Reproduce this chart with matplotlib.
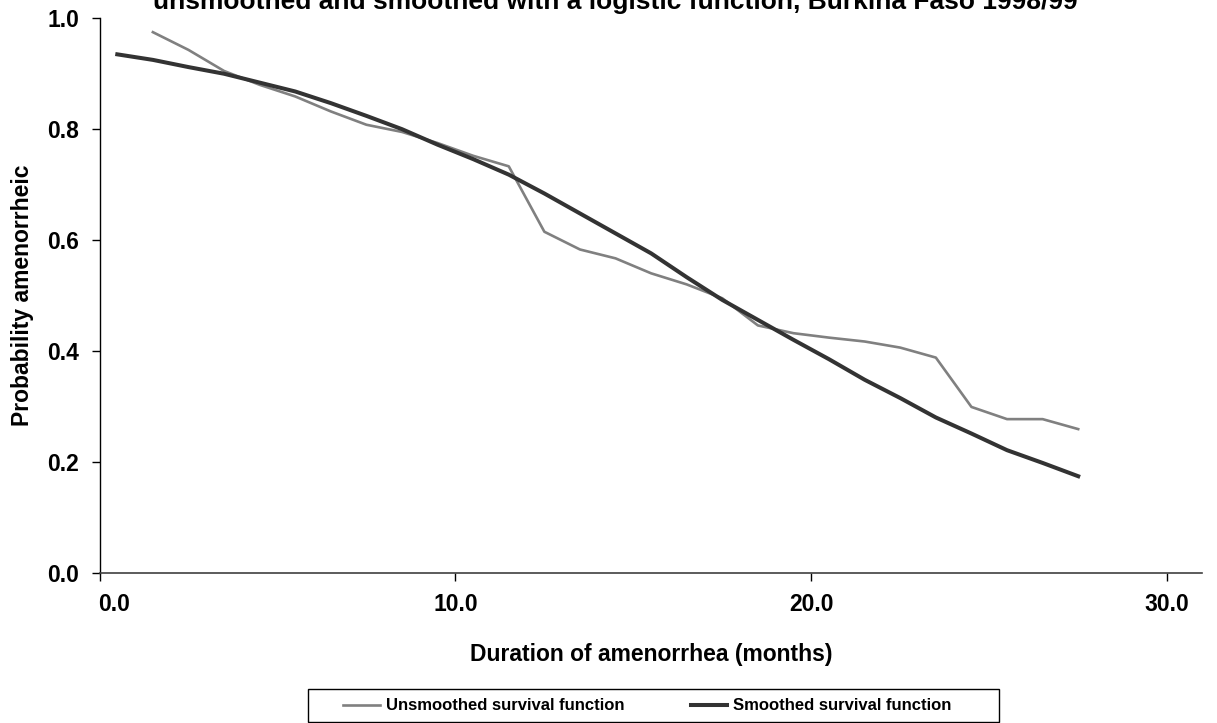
import matplotlib
matplotlib.use("Agg")
import matplotlib.pyplot as plt
import matplotlib.transforms as mtransforms
from matplotlib.patches import Rectangle

plt.rcParams["font.family"] = ["Liberation Sans", "DejaVu Sans"]
plt.rcParams["font.weight"] = "bold"

# ------------------------------------------------
# Data
# ------------------------------------------------

unsmoothed_x = [1.5, 2.5, 3.5, 4.5, 5.5, 6.5, 7.5, 8.5, 9.5, 10.5, 11.5, 12.5, 13.5, 14.5,
                15.5, 16.5, 17.5, 18.5, 19.5, 20.5, 21.5, 22.5, 23.5, 24.5, 25.5, 26.5, 27.5]
unsmoothed_y = [0.975, 0.943, 0.905, 0.880, 0.859, 0.832, 0.808, 0.795, 0.775, 0.752, 0.733,
                0.615, 0.583, 0.567, 0.540, 0.520, 0.495, 0.446, 0.432, 0.424, 0.417, 0.406,
                0.388, 0.299, 0.277, 0.277, 0.259]

smoothed_x = [0.5, 1.5, 2.5, 3.5, 4.5, 5.5, 6.5, 7.5, 8.5, 9.5, 10.5, 11.5, 12.5, 13.5, 14.5,
              15.5, 16.5, 17.5, 18.5, 19.5, 20.5, 21.5, 22.5, 23.5, 24.5, 25.5, 26.5, 27.5]
smoothed_y = [0.935, 0.925, 0.912, 0.900, 0.884, 0.868, 0.847, 0.824, 0.800, 0.772, 0.746,
              0.718, 0.684, 0.648, 0.612, 0.576, 0.533, 0.492, 0.456, 0.420, 0.385, 0.348,
              0.315, 0.280, 0.251, 0.221, 0.198, 0.174]

x_ticks = [0, 10, 20, 30]
y_ticks = [0.0, 0.2, 0.4, 0.6, 0.8, 1.0]

title_text = "unsmoothed and smoothed with a logistic function, Burkina Faso 1998/99"

# ------------------------------------------------
# Figure
# ------------------------------------------------

W, H = 1217, 723
fig = plt.figure(figsize=(W / 100, H / 100), dpi=100)
ax = fig.add_axes([99.5 / W, 1 - 572.7 / H, (1201.7 - 99.5) / W, (572.7 - 18.3) / H])

ax.plot(unsmoothed_x, unsmoothed_y, color="#808080", lw=1.9, label="Unsmoothed survival function")
ax.plot(smoothed_x, smoothed_y, color="#333333", lw=2.9, label="Smoothed survival function")

ax.set_xlim(0, 30.97)
ax.set_ylim(0, 1.0)
ax.set_xticks(x_ticks)
ax.set_xticklabels([f"{v:.1f}" for v in x_ticks])
ax.set_yticks(y_ticks)
ax.set_yticklabels([f"{v:.1f}" for v in y_ticks])

for side in ["top", "right"]:
    ax.spines[side].set_visible(False)
ax.spines["left"].set_color("black")
ax.spines["left"].set_linewidth(1.0)
ax.spines["bottom"].set_color("#404040")
ax.spines["bottom"].set_linewidth(1.2)

ax.tick_params(axis="y", direction="out", length=5.5, width=1, color="black", pad=9, labelsize=16.5)
ax.tick_params(axis="x", direction="out", length=5.5, width=1, color="black", pad=9, labelsize=16.5)

# first x label sits a bit to the right (as in the original)
lbl0 = ax.get_xticklabels()[0]
lbl0.set_transform(lbl0.get_transform() + mtransforms.ScaledTranslation(15 / 100, 0, fig.dpi_scale_trans))

# axis titles
fig.text(651 / W, 1 - 661 / H, "Duration of amenorrhea (months)", ha="center", va="baseline",
         fontsize=16.5, fontweight="bold")
fig.text(22.5 / W, 1 - 295 / H, "Probability amenorrheic", ha="center", va="center",
         rotation=90, fontsize=16.5, fontweight="bold")

# chart title (top part cut off in the original)
fig.text(615 / W, 1 - 8.5 / H, title_text, ha="center", va="baseline", fontsize=19, fontweight="bold")

# legend: frame drawn separately, entries placed inside it
fig.patches.append(Rectangle((308 / W, 1 - 722 / H), (999 - 308) / W, 33 / H,
                             transform=fig.transFigure, facecolor="white",
                             edgecolor="black", linewidth=1.0, zorder=1))
leg = fig.legend(loc="center left", bbox_to_anchor=(343 / W, 1 - 706 / H), ncol=2,
                 fontsize=12, frameon=False, borderpad=0, borderaxespad=0,
                 handlelength=2.2, handletextpad=0.35, columnspacing=4.0)
leg.set_zorder(2)
for t in leg.get_texts():
    t.set_fontweight("bold")

fig.savefig("out.png", dpi=100)
